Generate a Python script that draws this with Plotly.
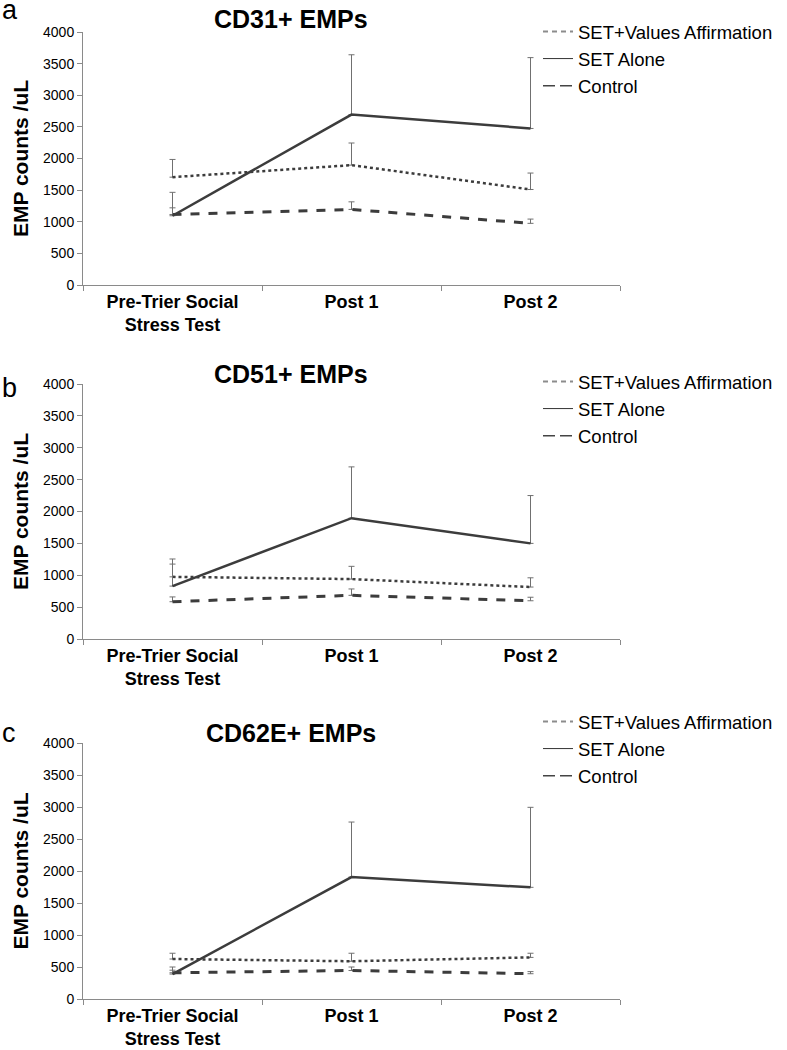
import plotly.graph_objects as go

W, H = 787, 1050

categories = ["Pre-Trier Social<br>Stress Test", "Post 1", "Post 2"]
series_names = ["SET+Values Affirmation", "SET Alone", "Control"]

panel_letters = ["a", "b", "c"]
panel_titles = ["CD31+ EMPs", "CD51+ EMPs", "CD62E+ EMPs"]

# CD31+
cd31_values = [1705, 1895, 1510]
cd31_values_top = [1985, 2245, 1770]
cd31_alone = [1095, 2695, 2475]
cd31_alone_top = [1465, 3640, 3595]
cd31_control = [1115, 1195, 975]
cd31_control_top = [1220, 1315, 1042]

# CD51+
cd51_values = [975, 940, 815]
cd51_values_top = [1175, 1140, 960]
cd51_alone = [830, 1895, 1500]
cd51_alone_top = [1255, 2700, 2250]
cd51_control = [585, 685, 600]
cd51_control_top = [660, 785, 655]

# CD62E+
cd62_values = [625, 590, 650]
cd62_values_top = [715, 715, 715]
cd62_alone = [390, 1905, 1745]
cd62_alone_top = [450, 2765, 2995]
cd62_control = [410, 445, 395]
cd62_control_top = [500, 500, 428]

y_ticks = [0, 500, 1000, 1500, 2000, 2500, 3000, 3500, 4000]

panels = [
    (cd31_values, cd31_values_top, cd31_alone, cd31_alone_top, cd31_control, cd31_control_top),
    (cd51_values, cd51_values_top, cd51_alone, cd51_alone_top, cd51_control, cd51_control_top),
    (cd62_values, cd62_values_top, cd62_alone, cd62_alone_top, cd62_control, cd62_control_top),
]

# window-pixel layout of each panel
plot_px = [(32, 285), (384, 639), (743, 999)]   # plot area top, bottom
title_px = [19, 374, 733]                         # title centre
letter_px = [9.5, 387.5, 732.5]                   # panel letter centre
legend_px = [13, 363, 703]                        # legend top
x_px = (83, 620)

FONT = "Arial, Liberation Sans, sans-serif"
LINE_COL = "#3c3c3c"
ERR_COL = "#707070"
AXIS_COL = "#8a8a8a"

fig = go.Figure()
layout = dict(
    width=W, height=H,
    margin=dict(l=0, r=0, t=0, b=0, autoexpand=False),
    paper_bgcolor="white", plot_bgcolor="white",
    font=dict(family=FONT, color="black"),
    annotations=[],
)

def px_x(p):
    return p / W

def px_y(p):
    return 1 - p / H

for i, (vals, vtop, alone, atop, ctrl, ctop) in enumerate(panels):
    sfx = "" if i == 0 else str(i + 1)
    xa, ya = "x" + sfx, "y" + sfx
    leg = "legend" + sfx
    def err(v, t):
        return dict(type="data", symmetric=False, array=[b - a for a, b in zip(v, t)],
                    arrayminus=[0] * len(v), color=ERR_COL, thickness=1, width=3)
    fig.add_trace(go.Scatter(x=categories, y=ctrl, mode="lines", xaxis=xa, yaxis=ya,
                             line=dict(color=LINE_COL, width=3, dash="dash"),
                             error_y=err(ctrl, ctop), showlegend=False))
    fig.add_trace(go.Scatter(x=categories, y=vals, mode="lines", xaxis=xa, yaxis=ya,
                             line=dict(color=LINE_COL, width=2.5, dash="dot"),
                             error_y=err(vals, vtop), showlegend=False))
    fig.add_trace(go.Scatter(x=categories, y=alone, mode="lines", xaxis=xa, yaxis=ya,
                             line=dict(color=LINE_COL, width=2.5),
                             error_y=err(alone, atop), showlegend=False))
    # legend entries
    leg_styles = [dict(color="#8c8c8c", width=2, dash="5px,4px"),
                  dict(color="#333333", width=1),
                  dict(color="#444444", width=1.5, dash="12px,5px")]
    for name, st in zip(series_names, leg_styles):
        fig.add_trace(go.Scatter(x=[None], y=[None], mode="lines", name=name, xaxis=xa, yaxis=ya,
                                 line=st, legend=leg, showlegend=True))

    top, bot = plot_px[i]
    layout["xaxis" + sfx] = dict(
        domain=[px_x(x_px[0]), px_x(x_px[1])], anchor=ya, type="category", automargin=False,
        range=[-0.5, 2.5], showline=True, linecolor=AXIS_COL, linewidth=1,
        ticks="outside", tickson="boundaries", ticklen=5, tickcolor=AXIS_COL,
        tickfont=dict(size=18, family=FONT, weight="bold"), showgrid=False, zeroline=False,
    )
    layout["yaxis" + sfx] = dict(
        domain=[px_y(bot), px_y(top)], anchor=xa, range=[0, 4000], tickvals=y_ticks, automargin=False,
        showline=True, linecolor=AXIS_COL, linewidth=1, ticks="outside", ticklen=5,
        tickcolor=AXIS_COL, tickfont=dict(size=14, family=FONT), showgrid=False, zeroline=False,
        title=dict(text="<b>EMP counts /uL</b>", font=dict(size=21, family=FONT), standoff=8),
    )
    layout[leg] = dict(x=px_x(538), y=px_y(legend_px[i]), xanchor="left", yanchor="top",
                       font=dict(size=18.5, family=FONT), bgcolor="rgba(0,0,0,0)",
                       tracegroupgap=0, itemwidth=30)
    layout["annotations"].append(dict(text="<b>" + panel_titles[i] + "</b>", x=px_x(291), y=px_y(title_px[i]),
                                      xref="paper", yref="paper", showarrow=False,
                                      font=dict(size=25, family=FONT), xanchor="center", yanchor="middle"))
    layout["annotations"].append(dict(text=panel_letters[i], x=0, y=px_y(letter_px[i]),
                                      xref="paper", yref="paper", showarrow=False,
                                      font=dict(size=27, family=FONT), xanchor="left", yanchor="middle"))

fig.update_layout(**layout)
fig.write_html("out.html", config={"displayModeBar": False},
               post_script="document.body.style.margin='0px';")
